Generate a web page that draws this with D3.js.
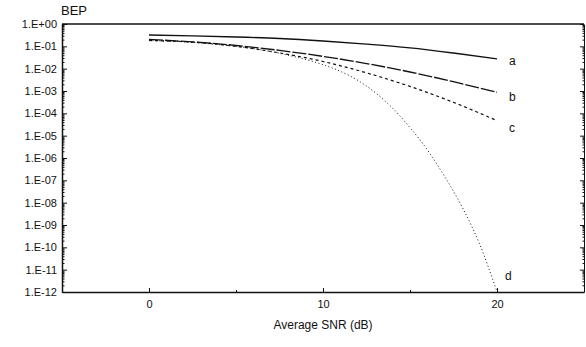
<!DOCTYPE html>
<html>
<head>
<meta charset="utf-8">
<script src="https://cdn.jsdelivr.net/npm/d3@7"></script>
<style>
  body { margin: 0; background: #fff; }
  svg { display: block; font-family: "Liberation Sans", Arial, sans-serif; }
  .axis path, .axis line { stroke: #111; }
  .axis text { fill: #111; font-size: 11px; }
  .curve-label { font-size: 12px; fill: #111; }
</style>
</head>
<body>
<div id="chart"></div>
<script>
const WIDTH = 586;
const HEIGHT = 347;
const MARGIN = { top: 24, right: 2, bottom: 55, left: 62 };

// SNR (dB) sample points and BEP
const snrCoarse = [0, 2.5, 5, 7.5, 10, 12.5, 15, 17.5, 20];
const bepA = [0.32, 0.295, 0.263, 0.224, 0.174, 0.126, 0.085, 0.05, 0.0275];
const bepB = [0.204, 0.158, 0.11, 0.066, 0.0355, 0.017, 7.1e-3, 2.6e-3, 8.7e-4];
const bepC = [0.182, 0.155, 0.1, 0.051, 0.021, 6.5e-3, 1.6e-3, 3.1e-4, 4.7e-5];

const snrD = [0, 2, 4, 6, 8, 10, 11, 12, 13, 14, 15, 16, 17, 18, 19, 20];
const bepD = [0.182, 0.158, 0.12, 0.079, 0.04, 0.0151, 7.6e-3, 3.0e-3, 8.5e-4,
  1.7e-4, 2.3e-5, 2.3e-6, 1.45e-7, 6.3e-9, 1.4e-10, 1.02e-12];

const xTicks = [0, 10, 20];
const xMinorTicks = [5, 15];
const yExponents = d3.range(0, -13, -1);

const curves = [
  { key: "a", snr: snrCoarse, bep: bepA, dash: null, width: 1.4, labelDy: 2 },
  { key: "b", snr: snrCoarse, bep: bepB, dash: "14,2", width: 1.3, labelDy: 4 },
  { key: "c", snr: snrCoarse, bep: bepC, dash: "3,3", width: 1.2, labelDy: 7 },
  { key: "d", snr: snrD, bep: bepD, dash: "1,2.5", width: 1, labelDy: -16 },
];

function expLabel(v) {
  const e = Math.round(Math.log10(v));
  const sign = e >= 0 ? "+" : "-";
  return `1.E${sign}${String(Math.abs(e)).padStart(2, "0")}`;
}

const svg = d3.select("#chart")
  .append("svg")
  .attr("width", WIDTH)
  .attr("height", HEIGHT);

const x = d3.scaleLinear()
  .domain([-5, 25])
  .range([MARGIN.left, WIDTH - MARGIN.right]);

const y = d3.scaleLog()
  .domain([1e-12, 1])
  .range([HEIGHT - MARGIN.bottom, MARGIN.top]);

const yMajor = yExponents.map((e) => Math.pow(10, e));
const yMinor = [];
for (const e of yExponents.slice(1)) {
  for (let m = 2; m <= 9; m++) yMinor.push(m * Math.pow(10, e));
}

const x0 = MARGIN.left, x1 = WIDTH - MARGIN.right;
const y0 = MARGIN.top, y1 = HEIGHT - MARGIN.bottom;

// —— Left axis ——
svg.append("g")
  .attr("class", "axis")
  .attr("transform", `translate(${x0},0)`)
  .call(d3.axisLeft(y).tickValues(yMinor).tickSize(-2.5).tickFormat(""))
  .call((g) => g.select(".domain").remove());

svg.append("g")
  .attr("class", "axis")
  .attr("transform", `translate(${x0},0)`)
  .call(d3.axisLeft(y).tickValues(yMajor).tickSizeInner(-5).tickSizeOuter(0)
    .tickPadding(5).tickFormat(expLabel))
  .call((g) => g.select(".domain").attr("stroke-width", 1.5));

// —— Right axis ——
svg.append("g")
  .attr("class", "axis")
  .attr("transform", `translate(${x1},0)`)
  .call(d3.axisRight(y).tickValues(yMinor).tickSize(-1.5).tickFormat(""))
  .call((g) => g.select(".domain").remove());

svg.append("g")
  .attr("class", "axis")
  .attr("transform", `translate(${x1},0)`)
  .call(d3.axisRight(y).tickValues(yMajor).tickSizeInner(-4).tickSizeOuter(0).tickFormat(""));

// —— Bottom axis ——
svg.append("g")
  .attr("class", "axis")
  .attr("transform", `translate(0,${y1})`)
  .call(d3.axisBottom(x).tickValues(xMinorTicks).tickSize(-2).tickFormat(""))
  .call((g) => g.select(".domain").remove());

svg.append("g")
  .attr("class", "axis")
  .attr("transform", `translate(0,${y1})`)
  .call(d3.axisBottom(x).tickValues(xTicks).tickSizeInner(-4).tickSizeOuter(0)
    .tickPadding(8).tickFormat(d3.format("d")))
  .call((g) => g.select(".domain").attr("stroke-width", 1.5))
  .call((g) => g.selectAll("text").attr("dy", "0.71em"));

// —— Top border ——
svg.append("line")
  .attr("x1", x0).attr("x2", x1)
  .attr("y1", y0).attr("y2", y0)
  .attr("stroke", "#111")
  .attr("stroke-width", 1.5);

// —— Titles ——
svg.append("text")
  .attr("x", 61)
  .attr("y", 15)
  .attr("font-size", 13)
  .attr("fill", "#111")
  .text("BEP");

svg.append("text")
  .attr("x", x(10))
  .attr("y", 329)
  .attr("text-anchor", "middle")
  .attr("font-size", 12)
  .attr("fill", "#111")
  .text("Average SNR (dB)");

// —— Curves ——
const line = d3.line()
  .curve(d3.curveMonotoneX)
  .x((d) => x(d[0]))
  .y((d) => y(d[1]));

for (const c of curves) {
  const pts = c.snr.map((s, i) => [s, c.bep[i]]);
  svg.append("path")
    .datum(pts)
    .attr("fill", "none")
    .attr("stroke", "#111")
    .attr("stroke-width", c.width)
    .attr("stroke-dasharray", c.dash)
    .attr("d", line);
}

// —— Curve labels, just right of each curve's end ——
svg.selectAll(".curve-label")
  .data(curves)
  .join("text")
  .attr("class", "curve-label")
  .attr("x", (d) => x(d.snr[d.snr.length - 1]) + (d.key === "d" ? 8 : 12))
  .attr("y", (d) => y(d.bep[d.bep.length - 1]) + d.labelDy)
  .attr("dy", "0.35em")
  .text((d) => d.key);
</script>
</body>
</html>
